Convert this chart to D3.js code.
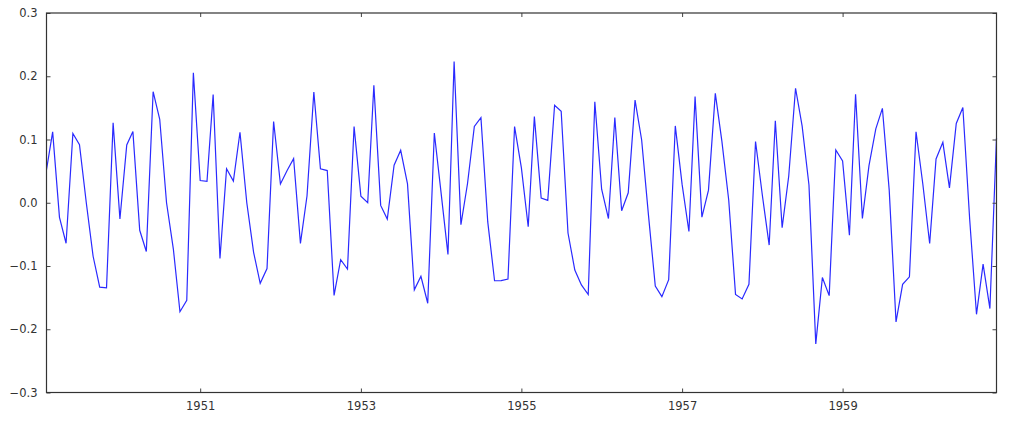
<!DOCTYPE html>
<html><head><meta charset="utf-8">
<script src="https://cdn.jsdelivr.net/npm/d3@7"></script>
<style>body{margin:0;background:#fff;} text{font-family:"DejaVu Sans",sans-serif;}</style>
</head><body>
<svg id="c" width="1024" height="427"></svg>
<script>
const startMonth = "1949-02";
const values = [
 0.0522,0.1121,-0.0230,-0.0640,0.1095,0.0919,0.0000,-0.0846,-0.1335,-0.1347,0.1263,
 -0.0258,0.0914,0.1125,-0.0435,-0.0770,0.1756,0.1319,0.0000,-0.0732,-0.1723,-0.1542,0.2054,
 0.0351,0.0339,0.1711,-0.0880,0.0537,0.0343,0.1115,0.0000,-0.0784,-0.1273,-0.1040,0.1284,
 0.0297,0.0513,0.0697,-0.0642,0.0110,0.1750,0.0536,0.0509,-0.1466,-0.0901,-0.1048,0.1204,
 0.0103,0.0000,0.1857,-0.0042,-0.0259,0.0593,0.0829,0.0299,-0.1377,-0.1162,-0.1589,0.1103,
 0.0148,-0.0817,0.2232,-0.0346,0.0304,0.1206,0.1345,-0.0303,-0.1233,-0.1231,-0.1205,0.1205,
 0.0552,-0.0379,0.1362,0.0075,0.0037,0.1542,0.1446,-0.0478,-0.1063,-0.1299,-0.1451,0.1596,
 0.0214,-0.0250,0.1349,-0.0127,0.0158,0.1622,0.0992,-0.0196,-0.1318,-0.1485,-0.1215,0.1215,
 0.0290,-0.0455,0.1678,-0.0227,0.0199,0.1729,0.0970,0.0043,-0.1449,-0.1521,-0.1290,0.0968,
 0.0118,-0.0669,0.1296,-0.0394,0.0422,0.1810,0.1211,0.0281,-0.2231,-0.1181,-0.1468,0.0835,
 0.0660,-0.0513,0.1715,-0.0249,0.0588,0.1167,0.1493,0.0199,-0.1884,-0.1289,-0.1172,0.1122,
 0.0292,-0.0644,0.0692,0.0955,0.0236,0.1253,0.1507,-0.0261,-0.1764,-0.0971,-0.1673,0.1023
];
const xTickYears = [1951,1953,1955,1957,1959];
const yTicks = [-0.3,-0.2,-0.1,0.0,0.1,0.2,0.3];

const L=46.5,R=996.5,T=13,B=392.5;
const t0 = d3.timeParse("%Y-%m")(startMonth);
const dates = values.map((v,i)=>d3.timeMonth.offset(t0,i));
const data = values.map((v,i)=>({d:dates[i],v}));
const x = d3.scaleTime().domain([dates[0],dates[dates.length-1]]).range([L,R]);
const y = d3.scaleLinear().domain([-0.3,0.3]).range([B,T]);
const svg = d3.select("#c");

svg.append("path").datum(data)
  .attr("fill","none").attr("stroke","#2a2aff").attr("stroke-width",1.2)
  .attr("d",d3.line().x(d=>x(d.d)).y(d=>y(d.v)));

const fmt = v => (v<0?"\u2212":"")+Math.abs(v).toFixed(1);
const tickDates = xTickYears.map(yr=>new Date(yr,0,1));
const g = svg.append("g");
g.append("g").attr("transform",`translate(0,${B})`)
 .call(d3.axisBottom(x).tickValues(tickDates).tickFormat(d3.timeFormat("%Y")).tickSizeInner(-4).tickSizeOuter(0).tickPadding(9))
 .call(a=>a.select(".domain").remove());
g.append("g").attr("transform",`translate(0,${T})`)
 .call(d3.axisTop(x).tickValues(tickDates).tickFormat("").tickSizeInner(-4).tickSizeOuter(0))
 .call(a=>a.select(".domain").remove());
g.append("g").attr("transform",`translate(${L},0)`)
 .call(d3.axisLeft(y).tickValues(yTicks).tickFormat(fmt).tickSizeInner(-4).tickSizeOuter(0).tickPadding(9))
 .call(a=>a.select(".domain").remove());
g.append("g").attr("transform",`translate(${R},0)`)
 .call(d3.axisRight(y).tickValues(yTicks).tickFormat("").tickSizeInner(-4).tickSizeOuter(0))
 .call(a=>a.select(".domain").remove());
g.selectAll("text").attr("font-size",11.5).attr("fill","#333").style("font-family","DejaVu Sans");
g.selectAll(".tick line").attr("stroke","#444");
svg.append("rect").attr("x",L).attr("y",T).attr("width",R-L).attr("height",B-T)
  .attr("fill","none").attr("stroke","#333").attr("stroke-width",1.2);
</script>
</body></html>
